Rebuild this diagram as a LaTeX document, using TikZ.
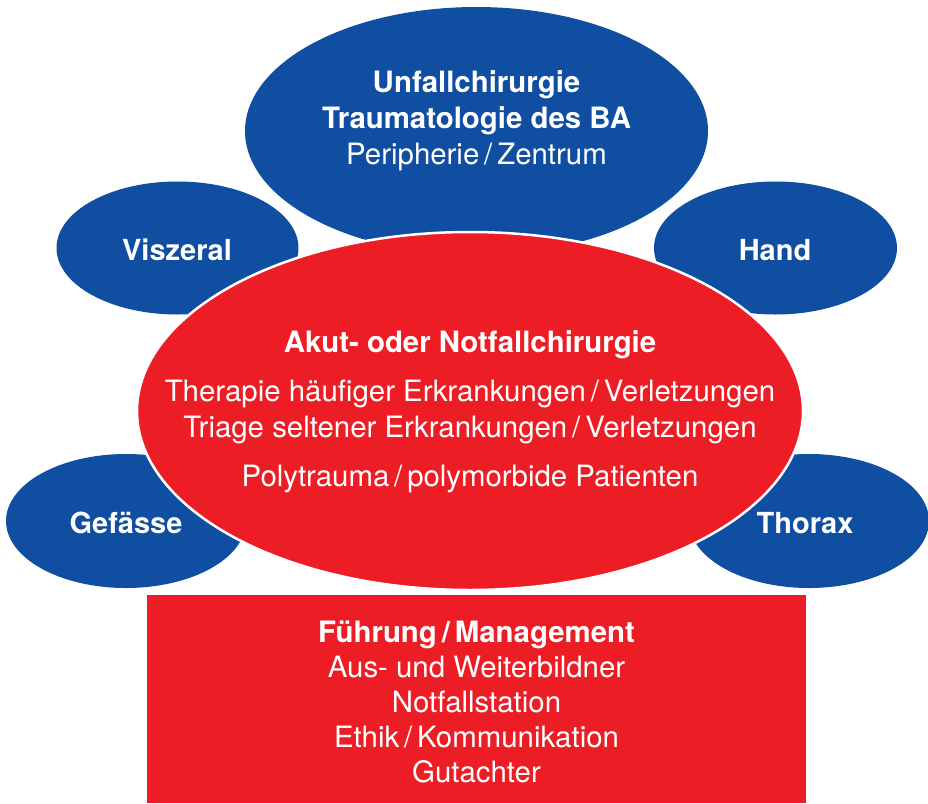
\documentclass[tikz,border=0pt]{standalone}
\usepackage{fontspec}
\setmainfont{TeX Gyre Heros}
\usepackage{tikz}
\usetikzlibrary{shapes.geometric}
\definecolor{chblue}{RGB}{15,78,161}
\definecolor{chred}{RGB}{237,29,37}
\tikzset{
    blob/.style={
           ellipse,
           fill=chblue,
           inner sep=0pt
           },
    core/.style={
           ellipse,
           fill=chred,
           draw=white, line width=2.5pt,
           inner sep=0pt
           },
    basebox/.style={
           rectangle,
           fill=chred,
           inner sep=0pt
           },
    label/.style={
           text=white,
           align=center,
           inner sep=0pt,
           font=\fontsize{29.4}{36}\selectfont
           },
    bold label/.style={
           label,
           font=\fontsize{29}{36}\selectfont\bfseries
           },
}

\begin{document}
\begin{tikzpicture}[x=1pt,y=-1pt]
    \useasboundingbox (0,0) rectangle (928,803);

    % outer fields
    \node[blob, minimum width=463pt, minimum height=248pt] (UNF) at (476.5,131) {};
    \node[label] (UNFtext) at (476.5,121)
        {\textbf{Unfallchirurgie}\\
         \textbf{Traumatologie des BA}\\
         Peripherie\,/\,Zentrum};
    \node[blob, minimum width=242pt, minimum height=133pt] (VIS) at (177.5,248) {};
    \node[bold label] (VIStext) at (177,250) {Viszeral};
    \node[blob, minimum width=243pt, minimum height=133pt] (HAND) at (775.5,248) {};
    \node[bold label] (HANDtext) at (775,250) {Hand};
    \node[blob, minimum width=240pt, minimum height=134pt] (GEF) at (126,521) {};
    \node[bold label] (GEFtext) at (126,523) {Gef\"asse};
    \node[blob, minimum width=240pt, minimum height=134pt] (THO) at (809,521) {};
    \node[bold label] (THOtext) at (805,523) {Thorax};

    % centre
    \node[core, minimum width=666pt, minimum height=358pt] (AKUT) at (470,411) {};
    \node[label] (AKUTtext) at (470,412)
        {\textbf{Akut- oder Notfallchirurgie}\\[13pt]
         Therapie h\"aufiger Erkrankungen\,/\,Verletzungen\\
         Triage seltener Erkrankungen\,/\,Verletzungen\\[13pt]
         Polytrauma\,/\,polymorbide Patienten};

    % base
    \node[basebox, minimum width=659pt, minimum height=208pt] (FUE) at (476.5,699) {};
    \node[label, font=\fontsize{29.4}{35}\selectfont] (FUEtext) at (476.5,702)
        {\textbf{F\"uhrung\,/\,Management}\\
         Aus- und Weiterbildner\\
         Notfallstation\\
         Ethik\,/\,Kommunikation\\
         Gutachter};
\end{tikzpicture}
\end{document}
